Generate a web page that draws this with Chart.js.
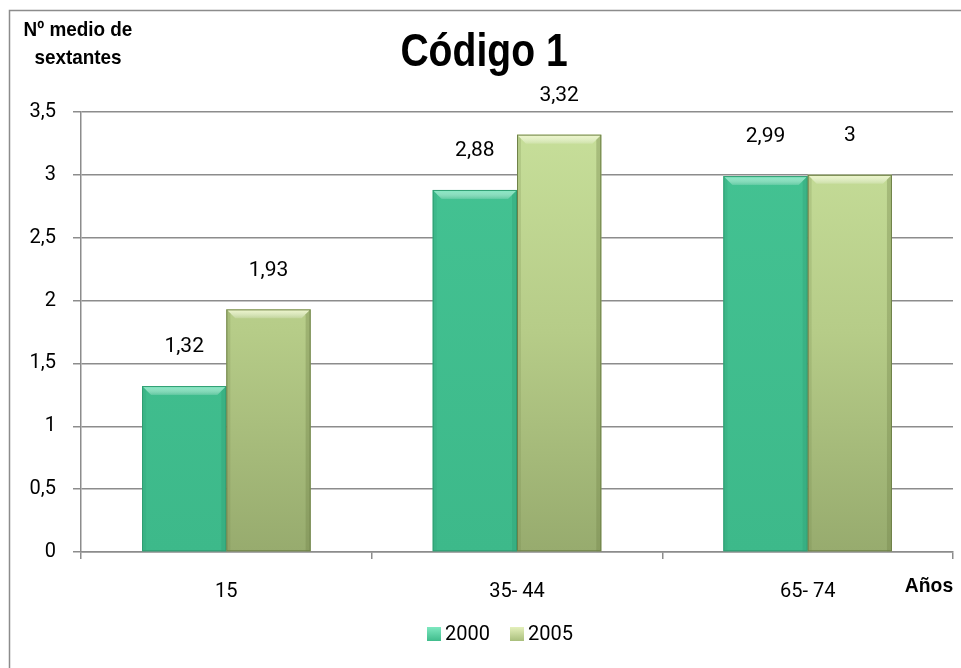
<!DOCTYPE html>
<html>
<head>
<meta charset="utf-8">
<title>Código 1</title>
<script src="https://cdn.jsdelivr.net/npm/chart.js@4.4.1/dist/chart.umd.min.js"></script>
<style>
  html, body { margin: 0; padding: 0; background: #fff; }
  #wrap { width: 961px; height: 668px; position: relative; }
</style>
</head>
<body>
<div id="wrap"><canvas id="myChart" width="961" height="668"></canvas></div>
<script>
// datos
var grupos = ['15', '35- 44', '65- 74'];
var anios = ['2000', '2005'];
var valores2000 = [1.32, 2.88, 2.99];
var valores2005 = [1.93, 3.32, 3];
var marcasY = [0, 0.5, 1, 1.5, 2, 2.5, 3, 3.5];

var sans = '"Liberation Sans", Arial, sans-serif';
var normal = 'Roboto, "Liberation Sans", Arial, sans-serif';

function coma(v) {
  return String(v).replace('.', ',');
}

// texto estrecho: se comprime en horizontal
function textoEstrecho(c, txt, x, y, escala) {
  c.save();
  c.translate(x, y);
  c.scale(escala, 1);
  c.fillText(txt, 0, 0);
  c.restore();
}

// degradados de las barras
function relleno2000(ctx) {
  var area = ctx.chart.chartArea;
  if (!area) return '#40bc8c';
  var g = ctx.chart.ctx.createLinearGradient(0, area.top, 0, area.bottom);
  g.addColorStop(0, '#44c393');
  g.addColorStop(1, '#3db98a');
  return g;
}
function relleno2005(ctx) {
  var area = ctx.chart.chartArea;
  if (!area) return '#b5cc86';
  var g = ctx.chart.ctx.createLinearGradient(0, area.top, 0, area.bottom);
  g.addColorStop(0, '#c8e09b');
  g.addColorStop(0.5, '#b6cc88');
  g.addColorStop(1, '#97ab6e');
  return g;
}

// biselado, etiquetas de valores, titulos y leyenda
var extras = {
  id: 'extras',
  beforeDraw: function (chart) {
    var c = chart.ctx;
    c.save();
    c.fillStyle = '#fff';
    c.fillRect(0, 0, chart.width, chart.height);
    c.strokeStyle = '#8c8c8c';
    c.lineWidth = 1.5;
    c.strokeRect(9.5, 10.5, 970, 680);
    c.restore();
  },
  afterDatasetsDraw: function (chart) {
    var c = chart.ctx;
    var bordes = [['#7ee8c0', '#2f9d72'], ['#eef7c8', '#6f8248']];
    c.save();
    chart.data.datasets.forEach(function (ds, i) {
      chart.getDatasetMeta(i).data.forEach(function (bar) {
        var l = bar.x - bar.width / 2, r = bar.x + bar.width / 2;
        var t = bar.y, b = bar.base, k = 9;
        // franja clara superior
        var g = c.createLinearGradient(0, t, 0, t + k);
        g.addColorStop(0, bordes[i][0]);
        g.addColorStop(1, 'rgba(255,255,255,0.15)');
        c.fillStyle = g;
        c.beginPath();
        c.moveTo(l, t); c.lineTo(r, t); c.lineTo(r - k, t + k); c.lineTo(l + k, t + k);
        c.closePath(); c.fill();
        // lados oscuros
        c.globalAlpha = 0.35;
        c.fillStyle = bordes[i][1];
        c.beginPath();
        c.moveTo(r, t); c.lineTo(r, b); c.lineTo(r - 5, b); c.lineTo(r - 5, t + 5);
        c.closePath(); c.fill();
        c.globalAlpha = 0.2;
        c.beginPath();
        c.moveTo(l, t); c.lineTo(l + 4, t + 4); c.lineTo(l + 4, b); c.lineTo(l, b);
        c.closePath(); c.fill();
        c.globalAlpha = 1;
        c.strokeStyle = bordes[i][1];
        c.lineWidth = 1;
        c.strokeRect(l + 0.5, t + 0.5, bar.width - 1, b - t - 1);
      });
    });
    c.restore();

    // etiquetas de valores
    c.save();
    c.fillStyle = '#000';
    c.font = '21px ' + normal;
    c.textAlign = 'center';
    c.textBaseline = 'middle';
    chart.data.datasets.forEach(function (ds, i) {
      chart.getDatasetMeta(i).data.forEach(function (bar, j) {
        c.fillText(coma(ds.data[j]), bar.x, bar.y - 39);
      });
    });
    c.restore();
  },
  afterDraw: function (chart) {
    var c = chart.ctx;
    c.save();
    c.fillStyle = '#000';
    c.textBaseline = 'middle';
    c.textAlign = 'center';
    c.font = 'bold 46px ' + sans;
    textoEstrecho(c, 'Código 1', 484, 53, 0.85);
    c.font = 'bold 21px ' + sans;
    textoEstrecho(c, 'Nº medio de', 78, 30, 0.9);
    textoEstrecho(c, 'sextantes', 78, 58, 0.9);
    textoEstrecho(c, 'Años', 929, 586, 0.92);

    // leyenda
    var items = [{ t: anios[0], x: 427, col: ['#7ee8c0', '#40bc8c'] },
                 { t: anios[1], x: 510, col: ['#e4f0bb', '#a9bf7c'] }];
    c.font = '20px ' + normal;
    c.textAlign = 'left';
    items.forEach(function (it) {
      var g = c.createLinearGradient(0, 627, 0, 641);
      g.addColorStop(0, it.col[0]);
      g.addColorStop(1, it.col[1]);
      c.fillStyle = g;
      c.fillRect(it.x, 627, 14, 14);
      c.fillStyle = '#000';
      c.fillText(it.t, it.x + 18, 635);
    });
    c.restore();
  }
};

var ctx = document.getElementById('myChart').getContext('2d');

var myChart = new Chart(ctx, {
  type: 'bar',
  data: {
    labels: grupos,
    datasets: [{
      label: anios[0],
      data: valores2000,
      backgroundColor: relleno2000,
      borderWidth: 0
    },
    {
      label: anios[1],
      data: valores2005,
      backgroundColor: relleno2005,
      borderWidth: 0
    }]
  },
  options: {
    responsive: false,
    animation: false,
    layout: { padding: { top: 112, right: 8, left: 0, bottom: 0 } },
    plugins: {
      legend: { display: false },
      title: { display: false },
      tooltip: { enabled: false }
    },
    datasets: {
      bar: { categoryPercentage: 0.58, barPercentage: 1 }
    },
    scales: {
      x: {
        grid: {
          offset: true,
          drawOnChartArea: false,
          drawTicks: true,
          tickLength: 7,
          color: '#8c8c8c',
          lineWidth: 1.5
        },
        border: { color: '#8c8c8c', width: 1.5 },
        ticks: {
          color: '#000',
          font: { family: normal, size: 20 },
          padding: 21
        },
        afterFit: function (scale) { scale.height = 116; }
      },
      y: {
        min: 0,
        max: 3.5,
        afterBuildTicks: function (scale) {
          scale.ticks = marcasY.map(function (v) { return { value: v }; });
        },
        grid: {
          color: '#8c8c8c',
          lineWidth: 1.5,
          tickLength: 8
        },
        border: { color: '#8c8c8c', width: 1.5 },
        ticks: {
          color: '#000',
          font: { family: normal, size: 20 },
          padding: 17,
          callback: function (v) { return coma(v); }
        },
        afterFit: function (scale) { scale.width = 81; }
      }
    }
  },
  plugins: [extras]
});
</script>
</body>
</html>
